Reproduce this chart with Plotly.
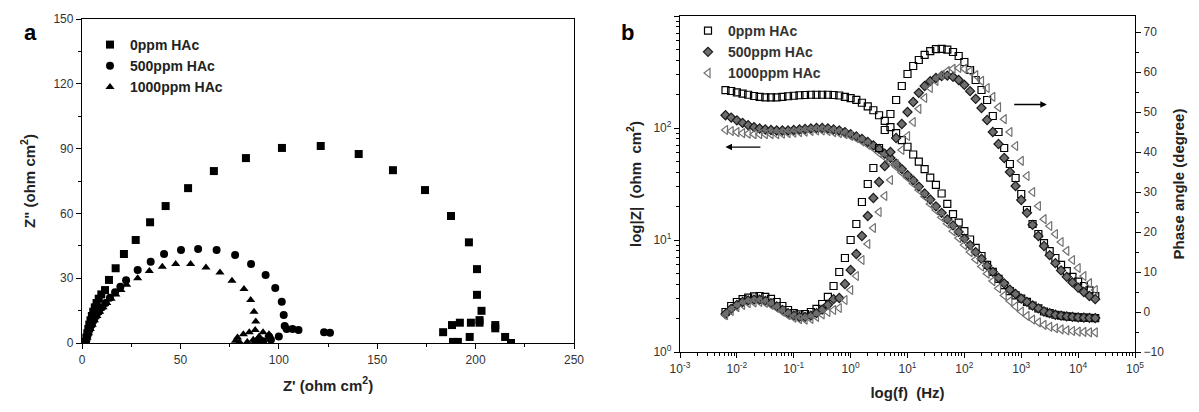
import plotly.graph_objects as go

# ---------------- Panel a: Nyquist data ----------------
zr_0 = [1.8, 2.2, 2.7, 3.2, 3.7, 4.3, 5.0, 5.7, 6.5, 7.4, 8.5, 9.8, 11.7, 13.7, 17.1, 21.3, 27.3,
        34.6, 42.5, 53.9, 67.0, 83.3, 101.6, 121.3, 140.6, 158.0, 174.3, 187.5, 196.6, 200.7,
        200.7, 203.0, 202.0, 202.0, 197.6, 192.0, 188.0, 183.5, 188.5, 191.0, 197.0, 210.0,
        210.0, 215.0, 218.0]
zi_0 = [0.5, 2.5, 4.5, 6.5, 8.5, 10.5, 12.5, 14.5, 16.5, 18.5, 20.5, 22.5, 24.5, 29.2, 34.6, 41.2,
        47.7, 55.9, 63.4, 71.7, 79.6, 85.6, 90.3, 91.2, 87.5, 80.0, 70.8, 58.8, 46.6, 34.2, 22.3,
        14.9, 10.6, 9.4, 9.4, 9.4, 8.3, 5.0, 0.5, 0.5, 2.8, 8.3, 6.8, 2.8, 0.0]

zr_500 = [2.0, 2.5, 3.2, 4.0, 5.0, 6.0, 7.2, 8.6, 10.2, 12.0, 14.2, 16.8, 19.5, 22.4, 28.3, 34.9,
          41.7, 50.3, 59.0, 68.4, 77.8, 85.9, 93.3, 98.2, 101.5, 102.5, 103.0, 104.0, 107.0,
          110.0, 100.0, 96.0, 92.0, 88.0, 90.0, 95.0, 123.0, 126.0]
zi_500 = [0.5, 2.5, 4.5, 6.5, 8.5, 10.5, 12.5, 14.5, 16.5, 18.5, 21.0, 23.5, 26.0, 29.0, 33.8, 37.6,
          41.2, 43.0, 43.5, 43.0, 40.7, 36.6, 31.5, 25.5, 19.1, 13.0, 7.9, 6.5, 6.5, 6.0, 3.0,
          1.5, 0.8, 0.5, 1.5, 3.0, 5.0, 4.8]

zr_1000 = [2.0, 2.6, 3.3, 4.2, 5.2, 6.3, 7.6, 9.0, 10.7, 12.6, 14.8, 17.2, 19.8, 22.7, 28.3, 34.2,
           40.8, 47.6, 55.2, 63.0, 70.1, 76.2, 82.3, 85.7, 87.4, 88.3, 88.0, 85.0, 82.0, 79.0,
           78.0, 80.0, 84.0, 87.0, 90.0, 92.0, 95.0]
zi_1000 = [0.5, 2.5, 4.5, 6.5, 8.5, 10.5, 12.5, 14.5, 16.5, 18.5, 20.5, 22.5, 24.5, 27.0, 30.0,
           33.3, 35.3, 36.6, 36.6, 34.9, 32.6, 28.8, 25.0, 19.9, 14.5, 9.9, 6.0, 5.0, 4.0, 2.5,
           1.0, 0.5, 0.5, 1.5, 3.0, 5.0, 4.0]

# ---------------- Panel b: Bode data ----------------
freq = [0.00631, 0.00794,
        0.01, 0.0126, 0.0158, 0.02, 0.0251, 0.0316, 0.0398, 0.0501, 0.0631, 0.0794,
        0.1, 0.126, 0.158, 0.2, 0.251, 0.316, 0.398, 0.501, 0.631, 0.794,
        1, 1.26, 1.58, 2.0, 2.51, 3.16, 3.98, 5.01, 6.31, 7.94,
        10, 12.6, 15.8, 20, 25.1, 31.6, 39.8, 50.1, 63.1, 79.4,
        100, 126, 158, 200, 251, 316, 398, 501, 631, 794,
        1000, 1260, 1580, 2000, 2510, 3160, 3980, 5010, 6310, 7940,
        10000, 12600, 15800, 20000]

zmod_0 = [218, 214, 208, 203, 198, 193, 190, 188, 188, 188, 190, 192, 194, 196, 197, 198, 198,
          198, 198, 197, 195, 190, 185, 178, 168, 156, 144, 130, 116, 102, 90, 78, 68, 58, 50,
          43, 36, 31, 26, 21, 17, 14.3, 12, 10.1, 8.5, 7.2, 6.0, 5.2, 4.5, 3.95, 3.5, 3.2, 3.0,
          2.8, 2.6, 2.45, 2.3, 2.22, 2.15, 2.11, 2.08, 2.06, 2.04, 2.03, 2.02, 2.01]
zmod_500 = [130, 124, 117, 111, 106, 102, 99, 97, 96, 95, 95, 95, 96, 97, 98, 99, 100, 100, 99,
            97, 95, 92, 88, 84, 80, 75, 70, 65, 59, 54, 48, 43, 38, 34, 30, 26, 23, 20, 17.5,
            15.3, 13.5, 11.8, 10.3, 9.0, 7.8, 6.8, 5.9, 5.2, 4.6, 4.1, 3.6, 3.3, 3.0, 2.8, 2.6,
            2.45, 2.3, 2.22, 2.15, 2.11, 2.08, 2.06, 2.04, 2.03, 2.02, 2.01]
zmod_1000 = [96, 94, 92, 90, 89, 88, 88, 88, 88, 88, 89, 90, 91, 92, 93, 94, 95, 95, 94, 92, 90,
             88, 85, 81, 76, 71, 66, 60, 55, 50, 45, 40, 36, 32, 28, 24.5, 21, 18.5, 16, 14,
             12, 10.4, 9.0, 7.8, 6.7, 5.8, 5.0, 4.3, 3.7, 3.2, 2.85, 2.55, 2.3, 2.1, 1.95, 1.84,
             1.75, 1.68, 1.63, 1.59, 1.56, 1.54, 1.52, 1.51, 1.5, 1.5]

phase_0 = [0.0, 1.5, 2.5, 3.2, 3.6, 3.9, 4.0, 3.8, 3.3, 2.5, 1.5, 0.5, -0.3, -0.6, -0.5, 0.0,
           0.8, 2.0, 3.8, 6.5, 10.0, 13.5, 18.0, 22.0, 27.5, 32.0, 36.0, 41.0, 45.5, 49.5, 53.0,
           56.5, 59.5, 61.5, 63.0, 64.3, 65.2, 65.7, 65.8, 65.6, 65.0, 64.0, 62.5, 60.5, 58.0,
           55.5, 53.0, 49.0, 45.0, 41.0, 37.0, 33.5, 29.5, 25.5, 22.0, 19.5, 17.2, 15.2, 13.5,
           11.8, 10.2, 8.8, 7.6, 6.5, 5.4, 4.0]
phase_500 = [-0.5, 0.8, 1.8, 2.5, 2.9, 3.1, 3.1, 2.8, 2.2, 1.4, 0.5, -0.3, -0.9, -1.2, -1.2, -0.9,
             -0.3, 0.6, 1.8, 3.2, 3.5, 7.0, 10.5, 14.5, 19.0, 24.0, 28.5, 32.5, 36.5, 40.0, 43.5,
             47.0, 50.0, 52.5, 54.8, 56.5, 57.7, 58.5, 59.0, 59.1, 58.8, 58.0, 56.8, 55.2, 53.3,
             51.0, 48.0, 45.0, 42.0, 38.5, 35.0, 31.5, 28.0, 24.8, 21.8, 19.0, 16.5, 14.2, 12.2,
             10.4, 8.8, 7.4, 6.1, 5.0, 4.0, 3.2]
phase_1000 = [-0.8, 0.3, 1.2, 1.8, 2.2, 2.4, 2.5, 2.3, 1.8, 1.0, 0.1, -0.8, -1.4, -1.8, -1.9, -1.7,
              -1.2, -0.6, 0.0, 0.5, 1.0, 3.0, 5.5, 9.0, 13.0, 17.0, 21.0, 25.0, 29.0, 33.0, 37.0,
              40.5, 44.0, 47.5, 50.8, 53.5, 56.0, 57.8, 59.2, 60.2, 60.8, 61.0, 60.8, 60.2, 59.2,
              57.8, 56.0, 53.8, 51.2, 48.2, 45.0, 41.5, 37.8, 34.0, 30.0, 26.5, 23.2, 21.5, 19.5,
              17.5, 15.3, 13.0, 11.0, 9.0, 7.2, 5.5]

labels = ["0ppm HAc", "500ppm HAc", "1000ppm HAc"]

# page has an 8px body margin: figure is inset by 8px
OFF = 8
W, H = 1199 - 2 * OFF, 412 - 2 * OFF
def px(x):
    return (x - OFF) / W
def py(y):
    return 1 - (y - OFF) / H

fig = go.Figure()

# Panel a
sym_a = ["square", "circle", "triangle-up"]
for xs, ys, lab, s in zip([zr_0, zr_500, zr_1000], [zi_0, zi_500, zi_1000], labels, sym_a):
    fig.add_trace(go.Scatter(x=xs, y=ys, mode="markers", name="<b>" + lab + "</b>", legend="legend",
                             marker=dict(symbol=s, size=8, color="black", line=dict(width=0)),
                             xaxis="x", yaxis="y"))

# Panel b
styles_b = [dict(symbol="square-open", size=7, color="black", line=dict(width=1.2, color="black")),
            dict(symbol="diamond", size=7, color="#6e6e6e", line=dict(width=1.2, color="#1a1a1a")),
            dict(symbol="triangle-left-open", size=8, color="#707070", line=dict(width=1.2, color="#707070"))]
for zm, ph, lab, st in zip([zmod_0, zmod_500, zmod_1000], [phase_0, phase_500, phase_1000], labels, styles_b):
    fig.add_trace(go.Scatter(x=freq, y=zm, mode="markers", name="<b>" + lab + "</b>", legend="legend2",
                             marker=st, xaxis="x2", yaxis="y2"))
    fig.add_trace(go.Scatter(x=freq, y=ph, mode="markers", name=lab, showlegend=False,
                             marker=st, xaxis="x2", yaxis="y3"))

tickfont = dict(family="Arial", size=12, color="#333")
titlefont = dict(family="Arial", size=15, color="#222")
axcommon = dict(showline=True, linecolor="black", linewidth=1.3, ticks="outside", ticklen=5,
                tickwidth=1.2, tickcolor="black", showgrid=False, zeroline=False, tickfont=tickfont,
                automargin=False)

fig.update_layout(
    width=W, height=H, autosize=False,
    margin=dict(l=0, r=0, t=0, b=0, autoexpand=False),
    paper_bgcolor="white", plot_bgcolor="white",
    xaxis=dict(domain=[px(82), px(574)], anchor="y", range=[0, 250], dtick=50,
               mirror=True, minor=dict(ticks="outside", ticklen=3, dtick=25, tickcolor="black"),
               title=dict(text="<b>Z' (ohm cm<sup>2</sup>)</b>", font=titlefont, standoff=14),
               **axcommon),
    yaxis=dict(domain=[py(343), py(19)], anchor="x", range=[0, 150], dtick=30,
               mirror=True, minor=dict(ticks="outside", ticklen=3, dtick=15, tickcolor="black"),
               title=dict(text="<b>Z\" (ohm cm<sup>2</sup>)</b>", font=titlefont, standoff=14),
               **axcommon),
    xaxis2=dict(domain=[px(680), px(1135)], anchor="y2", type="log", range=[-3, 5],
                mirror=True,
                tickvals=[1e-3, 1e-2, 1e-1, 1, 10, 100, 1e3, 1e4, 1e5],
                ticktext=["10<sup>-3</sup>", "10<sup>-2</sup>", "10<sup>-1</sup>", "10<sup>0</sup>",
                          "10<sup>1</sup>", "10<sup>2</sup>", "10<sup>3</sup>", "10<sup>4</sup>",
                          "10<sup>5</sup>"],
                minor=dict(ticks="outside", ticklen=3, tickcolor="black", dtick="D1"),
                title=dict(text="<b>log(f)  (Hz)</b>", font=titlefont, standoff=12),
                **axcommon),
    yaxis2=dict(domain=[py(352), py(16)], anchor="x2", type="log", range=[0, 3],
                tickvals=[1, 10, 100, 1000],
                ticktext=["10<sup>0</sup>", "10<sup>1</sup>", "10<sup>2</sup>", "10<sup>3</sup>"],
                minor=dict(ticks="outside", ticklen=3, tickcolor="black", dtick="D1"),
                title=dict(text="<b>log|Z|  (ohm  cm<sup>2</sup>)</b>", font=titlefont, standoff=8),
                **axcommon),
    yaxis3=dict(overlaying="y2", anchor="x2", side="right", range=[-10, 74], dtick=10,
                minor=dict(ticks="outside", ticklen=3, dtick=5, tickcolor="black"),
                title=dict(text="<b>Phase angle (degree)</b>", font=titlefont, standoff=10),
                **axcommon),
    legend=dict(x=px(90), y=py(29), xanchor="left", yanchor="top", bgcolor="rgba(0,0,0,0)",
                font=dict(family="Arial", size=14, color="#222"), tracegroupgap=0,
                itemwidth=30),
    legend2=dict(x=px(688), y=py(15), xanchor="left", yanchor="top", bgcolor="rgba(0,0,0,0)",
                 font=dict(family="Arial", size=14, color="#333"), tracegroupgap=0,
                 itemwidth=30),
    showlegend=True,
)

# panel letters
fig.add_annotation(text="<b>a</b>", x=px(22), y=py(18), xref="paper", yref="paper",
                   showarrow=False, font=dict(family="Arial", size=22, color="black"))
fig.add_annotation(text="<b>b</b>", x=px(628), y=py(18), xref="paper", yref="paper",
                   showarrow=False, font=dict(family="Arial", size=22, color="black"))

# arrows in panel b (pointing to the axis each curve family belongs to)
fig.add_annotation(x=-2.2, y=1.83, ax=-1.56, ay=1.83, xref="x2", yref="y2", axref="x2", ayref="y2",
                   showarrow=True, arrowhead=2, arrowsize=1, arrowwidth=1.3, arrowcolor="black", text="")
fig.add_annotation(x=3.45, y=2.21, ax=2.85, ay=2.21, xref="x2", yref="y2", axref="x2", ayref="y2",
                   showarrow=True, arrowhead=2, arrowsize=1, arrowwidth=1.3, arrowcolor="black", text="")

fig.write_html("out.html")
